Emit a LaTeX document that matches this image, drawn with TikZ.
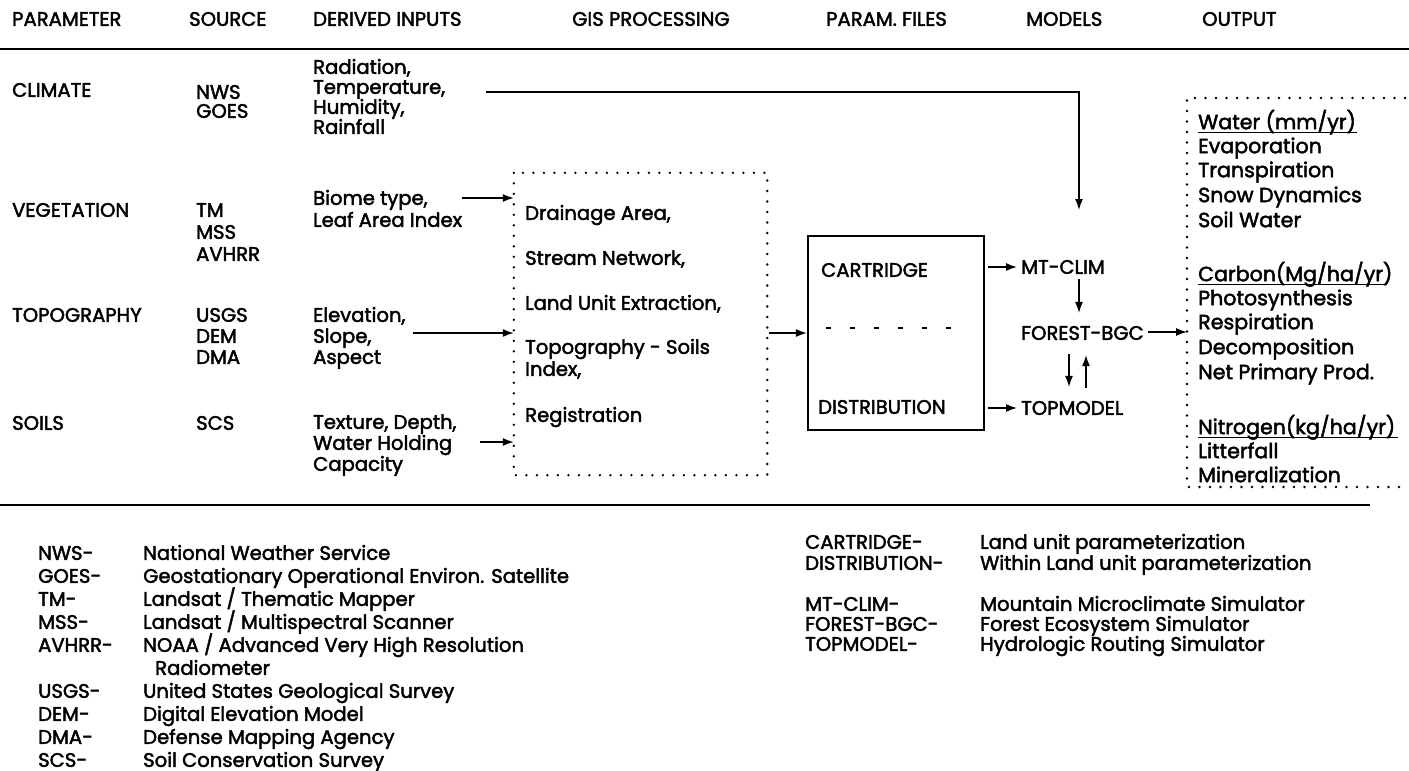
\documentclass[tikz,border=0pt]{standalone}
\usepackage{fontspec}
\setmainfont{Poppins}[FakeBold=2.2]
\usetikzlibrary{arrows.meta}
\begin{document}
\begin{tikzpicture}[x=1pt,y=-1pt,
  every node/.style={inner sep=0pt, anchor=west, text height=13.7pt, text depth=0pt, font=\fontsize{19.6pt}{22pt}\selectfont},
  outtxt/.style={font=\fontsize{20.6pt}{24pt}\selectfont, text height=14.4pt},
  arr/.style={-{Latex[length=11pt,width=8pt]}, line width=1.4pt},
  rulebar/.style={line width=2.4pt},
  dotbox/.style={line width=2.6pt, line cap=round, dash pattern=on 0pt off 10.5pt},
  uline/.style={line width=1.4pt},
]
\useasboundingbox (0,0) rectangle (1409,771);
% headers
\node (hPar) at (12,19) {PARAMETER};
\node (hSrc) at (189,19) {SOURCE};
\node (hDer) at (313,19) {DERIVED INPUTS};
\node (hGis) at (572,19) {GIS PROCESSING};
\node (hPf)  at (826,19) {PARAM. FILES};
\node (hMod) at (1026,19) {MODELS};
\node (hOut) at (1202,19) {OUTPUT};
\coordinate (rTL) at (0,49); \coordinate (rTR) at (1409,49);
\draw[rulebar] (rTL) -- (rTR);
% climate
\node (pClim) at (12,90) {CLIMATE};
\node (sNws) at (196,92) {NWS};
\node (sGoes) at (196,111) {GOES};
\node (dRad) at (313,67) {Radiation,};
\node (dTemp) at (313,87) {Temperature,};
\node (dHum) at (313,107) {Humidity,};
\node (dRain) at (313,127) {Rainfall};
% vegetation
\node (pVeg) at (12,210) {VEGETATION};
\node (sTm) at (196,210) {TM};
\node (sMss) at (196,232) {MSS};
\node (sAv) at (196,254) {AVHRR};
\node (dBio) at (313,198) {Biome type,};
\node (dLai) at (313,220) {Leaf Area Index};
% topography
\node (pTop) at (12,315) {TOPOGRAPHY};
\node (sUsgs) at (196,315) {USGS};
\node (sDem) at (196,336) {DEM};
\node (sDma) at (196,357) {DMA};
\node (dEl) at (313,315) {Elevation,};
\node (dSl) at (313,336) {Slope,};
\node (dAs) at (313,357) {Aspect};
% soils
\node (pSoil) at (12,423) {SOILS};
\node (sScs) at (196,423) {SCS};
\node (dTex) at (313,422) {Texture, Depth,};
\node (dWh) at (313,443) {Water Holding};
\node (dCap) at (313,464) {Capacity};
% GIS box
\node[anchor=center, minimum width=253pt, minimum height=302pt] (gis) at (640.5,324) {};
\draw[dotbox] (gis.north west) rectangle (gis.south east);
\node (g1) at (525,213) {Drainage Area,};
\node (g2) at (525,258) {Stream Network,};
\node (g3) at (525,303) {Land Unit Extraction,};
\node (g4) at (525,347) {Topography - Soils};
\node (g5) at (525,369) {Index,};
\node (g6) at (525,415) {Registration};
% arrows into GIS
\coordinate (a1) at (462,198);
\coordinate (a2) at (413,333);
\coordinate (a3) at (480,442);
\draw[arr] (a1) -- (a1 -| gis.west);
\draw[arr] (a2) -- (a2 -| gis.west);
\draw[arr] (a3) -- (a3 -| gis.west);
% param box
\node[anchor=center, draw, line width=2.2pt, minimum width=176pt, minimum height=194pt] (pbox) at (896,333) {};
\node (cart) at (821,270) {CARTRIDGE};
\node (dist) at (818,407) {DISTRIBUTION};
\draw[line width=2pt, dash pattern=on 5pt off 19pt] ([shift={(-70,-5)}]pbox.center) -- ([shift={(56,-5)}]pbox.center);
\draw[arr] ([xshift=2pt]gis.east |- pbox.west) -- (pbox.west);
% models
\node (mt) at (1021,267) {MT-CLIM};
\node (fbgc) at (1021,333) {FOREST-BGC};
\node (tm) at (1021,408) {TOPMODEL};
\draw[arr, shorten <=3pt, shorten >=4pt] (pbox.east |- mt) -- (mt.west);
\draw[arr, shorten <=3pt, shorten >=4pt] (pbox.east |- tm) -- (tm.west);
\coordinate (cx) at (1079,0);
\coordinate (dx) at (1069,0);
\coordinate (ux) at (1086,0);
\draw[arr, shorten <=5pt, shorten >=13pt] (mt.south -| cx) -- (fbgc.north -| cx);
\draw[arr, shorten <=14pt, shorten >=14pt] (fbgc.south -| dx) -- (tm.north -| dx);
\draw[arr, shorten <=13pt, shorten >=15pt] (tm.north -| ux) -- (fbgc.south -| ux);
% climate arrow
\coordinate (cs) at (486,92);
\coordinate (ce) at (1079,210);
\draw[arr] (cs) -- (cs -| ce) -- (ce);
% output box
\coordinate (oTL) at (1187,98);
\coordinate (oBL) at (1187,487);
\coordinate (oTR) at (1405,98);
\coordinate (oBR) at (1405,487);
\draw[dotbox] (oTR) -- (oTL) -- (oBL) -- (oBR);
\coordinate (fo) at (1148,332);
\draw[arr] (fo) -- (fo -| oTL);
\node[outtxt] (o1) at (1198,122) {Water (mm/yr)};
\node[outtxt] (o2) at (1198,146) {Evaporation};
\node[outtxt] (o3) at (1198,170) {Transpiration};
\node[outtxt] (o4) at (1198,195) {Snow Dynamics};
\node[outtxt] (o5) at (1198,220) {Soil Water};
\node[outtxt] (o6) at (1198,274) {Carbon(Mg/ha/yr)};
\node[outtxt] (o7) at (1198,298) {Photosynthesis};
\node[outtxt] (o8) at (1198,322) {Respiration};
\node[outtxt] (o9) at (1198,347) {Decomposition};
\node[outtxt] (o10) at (1198,372) {Net Primary Prod.};
\node[outtxt] (o11) at (1198,427) {Nitrogen(kg/ha/yr)};
\node[outtxt] (o12) at (1198,451) {Litterfall};
\node[outtxt] (o13) at (1198,475) {Mineralization};
\draw[uline] ([yshift=-3pt]o1.south west) -- ++(159,0);
\draw[uline] ([yshift=-3pt]o6.south west) -- ++(189,0);
\draw[uline] ([yshift=-3pt]o11.south west) -- ++(200,0);
% bottom rule
\coordinate (rBL) at (0,505); \coordinate (rBR) at (1370,505);
\draw[rulebar] (rBL) -- (rBR);
% legend left
\node (l1a) at (38,553) {NWS-};   \node (l1b) at (143,553) {National Weather Service};
\node (l2a) at (38,576) {GOES-};  \node (l2b) at (143,576) {Geostationary Operational Environ. Satellite};
\node (l3a) at (38,599) {TM-};    \node (l3b) at (143,599) {Landsat / Thematic Mapper};
\node (l4a) at (38,622) {MSS-};   \node (l4b) at (143,622) {Landsat / Multispectral Scanner};
\node (l5a) at (38,645) {AVHRR-}; \node (l5b) at (143,645) {NOAA / Advanced Very High Resolution};
\node (l5c) at (155,668) {Radiometer};
\node (l6a) at (38,691) {USGS-};  \node (l6b) at (143,691) {United States Geological Survey};
\node (l7a) at (38,714) {DEM-};   \node (l7b) at (143,714) {Digital Elevation Model};
\node (l8a) at (38,737) {DMA-};   \node (l8b) at (143,737) {Defense Mapping Agency};
\node (l9a) at (38,760) {SCS-};   \node (l9b) at (143,760) {Soil Conservation Survey};
% legend right
\node (r1a) at (805,542) {CARTRIDGE-};    \node (r1b) at (980,542) {Land unit parameterization};
\node (r2a) at (805,563) {DISTRIBUTION-}; \node (r2b) at (980,563) {Within Land unit parameterization};
\node (r3a) at (805,604) {MT-CLIM-};      \node (r3b) at (980,604) {Mountain Microclimate Simulator};
\node (r4a) at (805,624) {FOREST-BGC-};   \node (r4b) at (980,624) {Forest Ecosystem Simulator};
\node (r5a) at (805,644) {TOPMODEL-};     \node (r5b) at (980,644) {Hydrologic Routing Simulator};
\end{tikzpicture}
\end{document}
